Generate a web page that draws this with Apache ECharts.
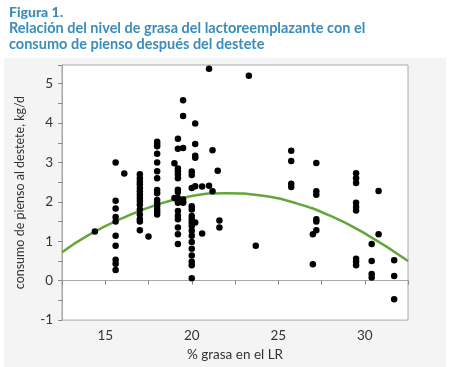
<!DOCTYPE html>
<html>
<head>
<meta charset="utf-8">
<script src="https://cdn.jsdelivr.net/npm/echarts@6/dist/echarts.min.js"></script>
<style>
html,body{margin:0;padding:0;background:#ffffff;}
#chart{width:450px;height:367px;}
</style>
</head>
<body>
<div id="chart"></div>
<script>
// % fat in the replacement sow (x) and feed intake after weaning, kg/d (y)
const fatPct = [
  14.4,
  15.6,15.6,15.6,15.6,15.6,15.6,15.6,15.6,15.6,15.6,
  16.1,
  17.0,17.0,17.0,17.0,17.0,17.0,17.0,17.0,17.0,17.0,17.0,17.0,17.0,17.0,17.0,
  17.5,
  18.0,18.0,18.0,18.0,18.0,18.0,18.0,18.0,18.0,18.0,18.0,18.0,18.0,18.0,18.0,
  19.0,19.0,
  19.2,19.2,19.2,19.2,19.2,19.2,19.2,19.2,19.2,19.2,19.2,19.2,19.2,19.2,19.2,19.2,19.2,
  19.5,19.5,19.5,19.5,19.5,19.5,
  20.0,20.0,20.0,20.0,20.0,20.0,20.0,20.0,20.0,20.0,20.0,20.0,20.0,20.0,20.0,20.0,20.0,
  20.2,20.2,20.2,20.2,20.2,20.2,
  20.6,20.6,
  21.0,21.0,
  21.2,21.2,
  21.5,
  21.6,21.6,
  23.3,
  23.7,
  25.75,25.75,25.75,25.75,
  27.0,27.0,
  27.2,27.2,27.2,27.2,27.2,27.2,
  29.5,29.5,29.5,29.5,29.5,29.5,29.5,29.5,29.5,
  30.4,30.4,30.4,30.4,
  30.8,30.8,
  31.7,31.7,31.7
];
const feedIntake = [
  1.25,
  3.0,2.03,1.83,1.62,1.5,1.14,0.89,0.53,0.43,0.27,
  2.72,
  2.7,2.6,2.52,2.45,2.35,2.27,2.18,2.1,2.02,1.93,1.81,1.68,1.56,1.5,1.28,
  1.12,
  3.53,3.47,3.41,3.22,3.0,2.78,2.6,2.3,2.22,2.05,1.97,1.9,1.82,1.75,1.68,
  2.98,2.1,
  3.6,3.35,2.85,2.78,2.7,2.6,2.31,2.25,2.1,2.02,1.98,1.77,1.65,1.56,1.35,1.18,0.93,
  4.58,4.18,3.37,2.06,2.0,1.98,
  2.77,2.68,2.35,1.89,1.81,1.64,1.56,1.48,1.39,1.27,1.14,0.98,0.81,0.64,0.48,0.39,0.06,
  3.99,3.47,3.17,3.12,2.4,1.48,
  2.39,1.2,
  5.38,2.41,
  3.31,2.27,
  2.79,
  1.53,1.35,
  5.2,
  0.89,
  3.3,3.04,2.46,2.38,
  1.18,0.42,
  2.99,2.27,2.18,1.56,1.5,1.28,
  2.73,2.6,2.48,1.98,1.87,1.78,0.56,0.48,0.39,
  0.93,0.5,0.17,0.08,
  2.28,1.18,
  0.52,0.12,-0.47
];
// fitted curve
const curveX = [12.5,14,16,18,20,22,24,26,28,30,32.5];
const curveY = [0.72,1.15,1.59,1.93,2.15,2.22,2.16,1.97,1.65,1.2,0.5];
const xTickLabels = [15,20,25,30];
const yTickLabels = [-1,0,1,2,3,4,5];

const titleLine1 = 'Figura 1.';
const titleLine2 = 'Relación del nivel de grasa del lactoreemplazante con el\nconsumo de pienso después del destete';
const xName = '% grasa en el LR';
const yName = 'consumo de pienso al destete, kg/d';

const points = fatPct.map((x,i)=>[x, feedIntake[i]]);
const curve = curveX.map((x,i)=>[x, curveY[i]]);

const chart = echarts.init(document.getElementById('chart'), null, {renderer:'canvas'});
const TITLE_COLOR = '#3a8dbb';
const labelFont = 'Lato';
chart.setOption({
  animation:false,
  backgroundColor:'transparent',
  graphic:[{type:'rect', z:-100, silent:true, shape:{x:4,y:58,width:442,height:309}, style:{fill:'#f4f4f4'}}],
  title:[
    {text:titleLine1, left:9, top:5, padding:0, textStyle:{fontFamily:'Lato', fontWeight:900, fontSize:14, color:TITLE_COLOR}},
    {text:titleLine2, left:9, top:20, padding:0, textStyle:{fontFamily:'Lato', fontWeight:'bold', fontSize:14.5, lineHeight:16, color:TITLE_COLOR}}
  ],
  grid:{left:62, top:65, right:42, bottom:43, show:true, backgroundColor:'#ffffff', borderColor:'#a8a8a8', borderWidth:1},
  xAxis:{
    type:'value', min:12.5, max:32.5, interval:2.5,
    name:xName, nameLocation:'middle', nameGap:26,
    nameTextStyle:{fontFamily:labelFont, fontSize:13.5, color:'#333'},
    axisLine:{show:true, lineStyle:{color:'#a8a8a8'}},
    axisTick:{show:true, length:4, lineStyle:{color:'#888'}},
    splitLine:{show:false},
    axisLabel:{margin:9, fontFamily:labelFont, fontSize:13.5, color:'#333',
      formatter:v=> xTickLabels.includes(v) ? String(v) : ''}
  },
  yAxis:{
    type:'value', min:-1, max:5.475, interval:0.5,
    name:yName, nameLocation:'middle', nameGap:36,
    nameTextStyle:{fontFamily:labelFont, fontSize:12.5, color:'#333'},
    axisLine:{show:true, lineStyle:{color:'#a8a8a8'}},
    axisTick:{show:true, length:4, lineStyle:{color:'#888'}},
    splitLine:{show:false},
    axisLabel:{margin:9, fontFamily:labelFont, fontSize:13.5, color:'#333',
      formatter:v=> yTickLabels.includes(v) ? String(v) : ''}
  },
  series:[
    {type:'line', data:curve, smooth:true, showSymbol:false, symbol:'none', z:2,
     lineStyle:{color:'#63a63c', width:2.5}},
    {type:'scatter', data:points, symbol:'circle', symbolSize:6.5, z:3,
     itemStyle:{color:'#000000', opacity:1}}
  ]
});
</script>
</body>
</html>
